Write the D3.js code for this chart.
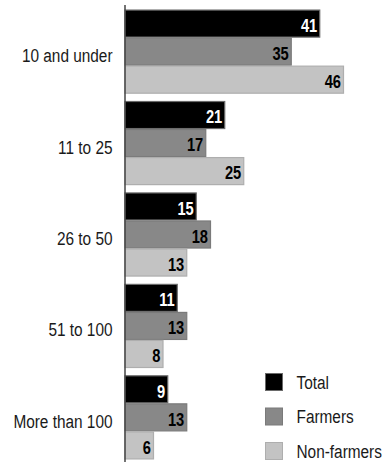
<!DOCTYPE html>
<html>
<head>
<meta charset="utf-8">
<script src="https://cdn.jsdelivr.net/npm/d3@7"></script>
<style>
  html, body { margin: 0; padding: 0; background: #fff; }
  svg { display: block; font-family: "Liberation Sans", Arial, sans-serif; }
</style>
</head>
<body>
<svg id="chart" width="385" height="462"></svg>
<script>
// Farm size groups and share of respondents (%) per series
const categories = ["10 and under", "11 to 25", "26 to 50", "51 to 100", "More than 100"];
const seriesNames = ["Total", "Farmers", "Non-farmers"];
const totalValues = [41, 21, 15, 11, 9];
const farmerValues = [35, 17, 18, 13, 13];
const nonFarmerValues = [46, 25, 13, 8, 6];

const seriesValues = [totalValues, farmerValues, nonFarmerValues];
const fills = ["#000000", "#888888", "#c3c3c3"];
const strokes = ["#6a6a6a", "#7a7a7a", "#aeaeae"];
const labelFills = ["#ffffff", "#000000", "#000000"];

// Condensed look: horizontally squeezed glyphs
const sxText = 0.81;
const sxValue = 0.84;

const svg = d3.select("#chart");

const x = d3.scaleLinear().domain([0, 50]).range([125, 362.5]);
const y = d3.scaleBand().domain(categories).range([5, 464])
  .paddingInner(0.08).paddingOuter(0.05);
const ySub = d3.scaleBand().domain(seriesNames).range([0, y.bandwidth()]).padding(0);

const rows = categories.map((c, i) => ({
  category: c,
  bars: seriesNames.map((s, j) => ({ series: s, idx: j, value: seriesValues[j][i] }))
}));

const groups = svg.append("g").selectAll("g")
  .data(rows).join("g")
  .attr("transform", d => `translate(0,${y(d.category)})`);

groups.selectAll("rect")
  .data(d => d.bars).join("rect")
  .attr("x", x(0))
  .attr("y", d => ySub(d.series) + 0.5)
  .attr("width", d => x(d.value) - x(0))
  .attr("height", ySub.bandwidth() - 1)
  .attr("fill", d => fills[d.idx])
  .attr("stroke", d => strokes[d.idx])
  .attr("stroke-width", 1.2);

groups.selectAll("g.value")
  .data(d => d.bars).join("g")
  .attr("class", "value")
  .attr("transform", d => `translate(${x(d.value) - 2.5},${ySub(d.series) + ySub.bandwidth() / 2}) scale(${sxValue},1)`)
  .append("text")
  .attr("dy", "0.47em")
  .attr("text-anchor", "end")
  .attr("font-weight", "bold")
  .attr("font-size", 17.5)
  .attr("fill", d => labelFills[d.idx])
  .text(d => d.value);

// Category axis: vertical line with labels, no ticks
const yAxis = d3.axisLeft(y).tickSize(0).tickPadding(12);
const axisG = svg.append("g")
  .attr("transform", `translate(${x(0)},0)`)
  .call(yAxis)
  .attr("font-family", null)
  .attr("font-size", null);
axisG.select(".domain").remove();
axisG.selectAll("text")
  .attr("x", -12.5 / sxText)
  .attr("transform", `scale(${sxText},1)`)
  .attr("font-size", 19)
  .attr("fill", "#1a1a1a")
  .attr("dy", "0.55em");
svg.append("line")
  .attr("x1", x(0)).attr("x2", x(0))
  .attr("y1", 5).attr("y2", 462)
  .attr("stroke", "#444")
  .attr("stroke-width", 1.5);

// Legend
const legend = svg.append("g").attr("transform", "translate(265,373)");
const items = legend.selectAll("g").data(seriesNames).join("g")
  .attr("transform", (d, i) => `translate(0,${i * 34.5})`);
items.append("rect")
  .attr("x", 0.5).attr("y", 0.5)
  .attr("width", 17).attr("height", 17)
  .attr("fill", (d, i) => fills[i])
  .attr("stroke", (d, i) => strokes[i]);
items.append("g")
  .attr("transform", `translate(31.5,9) scale(${sxText},1)`)
  .append("text")
  .attr("dy", "0.36em")
  .attr("font-size", 19)
  .attr("fill", "#1a1a1a")
  .text(d => d);
</script>
</body>
</html>
